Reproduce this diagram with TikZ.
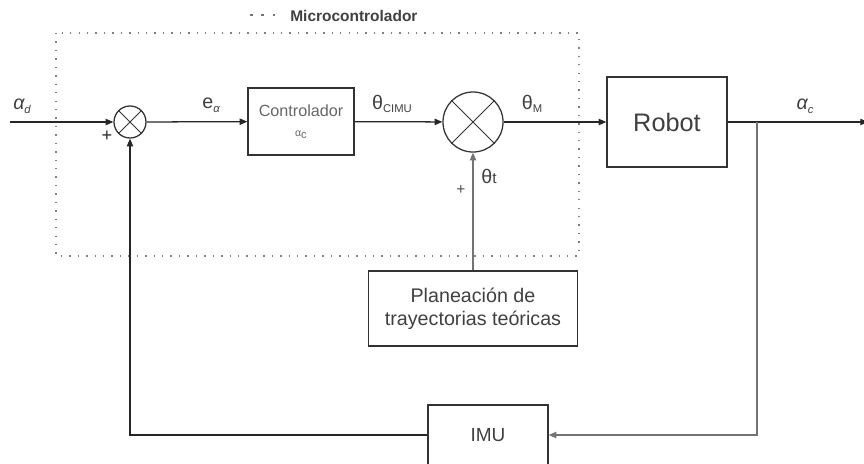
\documentclass[tikz,border=0pt]{standalone}
\usepackage{fontspec}
\setmainfont{Liberation Sans}
\usetikzlibrary{arrows.meta, positioning, calc}

\newcommand{\lowsub}[1]{\raisebox{-0.35ex}{\fontsize{8}{9}\selectfont #1}}

\begin{document}
\begin{tikzpicture}[
    x=0.025cm, y=-0.025cm,
    line width=0.9pt,
    box/.style={draw=black!80, rectangle, align=center, inner sep=0pt, text=black!75},
    sumj/.style={draw=black!80, circle, inner sep=0pt},
    arr/.style={-{Triangle[length=5.5pt,width=4.5pt]}, draw=black!85},
    lbl/.style={text=black!75, inner sep=0pt, font=\fontsize{14}{16}\selectfont}
]
\clip (0,0) rectangle (864,463);
% Microcontrolador frame
\draw[black!50, line width=1pt, dash pattern=on 1pt off 5pt] (56,33) rectangle (579,256);
\draw[black!55, line width=1.2pt, dash pattern=on 2pt off 6pt] (250,15) -- (278,15);
\node[anchor=west, font=\bfseries\fontsize{11}{13}\selectfont, text=black!75] (leg) at (285,16) {Microcontrolador};
% Blocks
\node[sumj, minimum size=0.8cm] (sA) at (130,122) {};
\node[box, minimum width=2.65cm, minimum height=1.675cm, font=\fontsize{11.5}{13}\selectfont, text=black!60] (ctrl) at (301,121.5)
    {Controlador\\[1pt]{\fontsize{7.5}{8}\selectfont α\lowsub{c}}};
\node[sumj, minimum size=1.5cm] (sB) at (473,122) {};
\node[box, minimum width=3cm, minimum height=2.25cm, font=\fontsize{18}{20}\selectfont] (robot) at (667,122) {Robot};
\node[box, minimum width=5.225cm, minimum height=1.875cm, font=\fontsize{14}{16.5}\selectfont] (plan) at (473,308.5)
    {Planeación de\\trayectorias teóricas};
\node[box, minimum width=3cm, minimum height=1.5cm, font=\fontsize{13.5}{15}\selectfont] (imu) at (488,435) {IMU};
\draw[black!80, line width=0.6pt] (sA.north west) -- (sA.south east) (sA.north east) -- (sA.south west);
\draw[black!80, line width=0.6pt] (sB.north west) -- (sB.south east) (sB.north east) -- (sB.south west);
% Signal ends
\coordinate (in) at (10,122);
\coordinate (out) at (868,122);
\coordinate (br) at (757,122);
% Labels
\node[lbl] (ad) at (22,106) {\itshape α\lowsub{d}};
\node[lbl] (ea) at (211,105) {e\lowsub{\itshape α}};
\node[lbl] (tc) at (392,104) {θ\lowsub{CIMU}};
\node[lbl] (tm) at (532,104) {θ\lowsub{M}};
\node[lbl] (ac) at (805,106) {\itshape α\lowsub{c}};
\node[lbl] (tt) at (489,176) {θ{\fontsize{11}{12}\selectfont t}};
\node[font=\fontsize{13}{14}\selectfont, text=black!85] (pA) at (107,136) {+};
\node[font=\fontsize{11}{12}\selectfont, text=black!70] (pB) at (461,190) {+};
% Connections
\draw[arr] (in) -- (sA);
\draw[arr] (sA) -- (ctrl);
\draw[arr] (ctrl) -- (sB);
\draw[arr] (sB) -- (robot);
\draw[arr] (robot) -- (out);
\draw[arr, black!55] (plan) -- (sB);
\draw[arr, black!55] (br) |- (imu);
\draw[arr] (imu) -| (sA);
\end{tikzpicture}
\end{document}
